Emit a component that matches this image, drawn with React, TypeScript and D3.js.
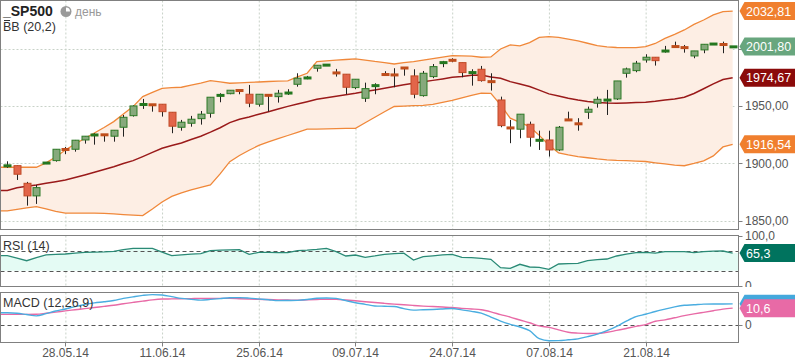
import React, { useEffect, useRef } from 'react';
import * as d3 from 'd3';

// candles (index 0 = first visible day)
const openP = [1897.0, 1897.9, 1882.5, 1871.5, 1899.5, 1902.3, 1912.4, 1912.2, 1920.3, 1924.3,
  1925.2, 1923.6, 1931.4, 1941.5, 1950.9, 1951.4, 1951.5, 1944.5, 1931.4, 1934.9,
  1938.9, 1943.6, 1958.8, 1960.7, 1963.8, 1960.2, 1951.5, 1960.0, 1958.1, 1960.9,
  1968.9, 1974.0, 1982.9, 1985.2, 1979.2, 1977.7, 1966.0, 1956.7, 1967.3, 1977.8,
  1977.9, 1983.5, 1976.2, 1959.0, 1975.6, 1987.4, 1990.2, 1987.8, 1978.7, 1982.0,
  1971.6, 1955.2, 1931.2, 1929.7, 1934.0, 1919.6, 1920.3, 1911.6, 1938.2, 1934.8,
  1944.5, 1952.4, 1954.7, 1956.1, 1978.5, 1980.8, 1990.1, 1992.5, 1997.5, 2002.2,
  2001.3, 1993.6, 1998.9, 2003.6, 2004.0, 2001.3];
const highP = [1901.7, 1898.2, 1883.7, 1881.1, 1901.0, 1912.2, 1914.2, 1920.3, 1923.6, 1926.2,
  1925.2, 1928.8, 1942.1, 1950.5, 1956.1, 1951.4, 1951.5, 1944.5, 1937.8, 1941.3,
  1945.6, 1957.6, 1961.1, 1963.7, 1963.8, 1968.3, 1960.2, 1960.0, 1964.0, 1964.6,
  1978.5, 1976.2, 1985.5, 1986.0, 1982.3, 1977.7, 1973.3, 1970.3, 1969.8, 1980.3,
  1982.9, 1983.5, 1982.0, 1980.5, 1986.6, 1989.3, 1991.6, 1987.8, 1982.0, 1984.9,
  1978.5, 1958.1, 1937.8, 1942.8, 1936.3, 1928.4, 1928.4, 1932.5, 1945.0, 1939.3,
  1949.4, 1958.1, 1964.0, 1971.8, 1983.4, 1989.3, 1995.1, 1992.5, 2002.4, 2006.1,
  2003.2, 1998.0, 2003.8, 2004.4, 2006.1, 2001.8];
const lowP = [1895.9, 1885.4, 1863.0, 1864.5, 1899.3, 1901.4, 1907.9, 1910.1, 1917.1, 1916.2,
  1918.8, 1918.8, 1923.2, 1940.7, 1947.4, 1945.0, 1940.7, 1926.2, 1928.4, 1931.9,
  1933.7, 1939.8, 1953.2, 1960.2, 1960.2, 1948.9, 1949.4, 1945.0, 1952.9, 1959.6,
  1966.8, 1973.3, 1979.9, 1985.2, 1975.6, 1960.2, 1964.6, 1953.5, 1960.2, 1976.2,
  1966.3, 1976.4, 1956.7, 1958.1, 1974.2, 1983.8, 1988.1, 1975.0, 1967.7, 1971.2,
  1963.4, 1931.4, 1917.5, 1921.8, 1914.5, 1911.6, 1905.8, 1910.7, 1936.9, 1928.4,
  1938.7, 1948.5, 1942.1, 1955.2, 1974.7, 1979.4, 1987.8, 1985.2, 1996.5, 2001.2,
  1996.5, 1991.6, 1996.0, 2003.6, 1996.0, 2001.3];
const closeP = [1898.5, 1890.4, 1871.5, 1878.7, 1900.8, 1912.2, 1911.6, 1920.1, 1923.6, 1925.0,
  1924.4, 1928.8, 1940.1, 1950.0, 1951.6, 1950.6, 1945.0, 1932.3, 1935.8, 1938.4,
  1942.8, 1957.6, 1959.6, 1963.7, 1963.1, 1952.4, 1960.2, 1958.5, 1961.1, 1961.6,
  1974.2, 1974.8, 1985.5, 1986.0, 1978.4, 1966.3, 1973.3, 1965.1, 1968.1, 1977.0,
  1976.2, 1982.7, 1960.2, 1978.5, 1984.3, 1988.2, 1989.4, 1979.1, 1979.5, 1972.1,
  1970.8, 1932.8, 1930.4, 1942.8, 1922.7, 1920.4, 1911.6, 1931.4, 1937.4, 1934.0,
  1947.1, 1955.8, 1955.5, 1971.8, 1982.3, 1987.3, 1992.5, 1989.5, 1998.3, 2001.4,
  2000.5, 1998.0, 2003.8, 2004.4, 2003.2, 2001.8];

// Bollinger bands (20,2)
const bbUpper = [1896.5, 1896.5, 1896.5, 1896.5, 1900.3, 1905.5, 1911.6, 1916.8, 1921.6, 1926.4,
  1931.2, 1936.3, 1943.0, 1949.4, 1958.1, 1961.8, 1965.4, 1965.9, 1966.3, 1968.1,
  1969.8, 1972.1, 1970.9, 1969.8, 1970.2, 1970.5, 1970.9, 1971.3, 1971.6, 1971.8,
  1975.3, 1978.5, 1988.7, 1989.3, 1989.9, 1990.5, 1991.0, 1990.0, 1988.8, 1987.8,
  1986.6, 1987.7, 1988.7, 1990.0, 1991.3, 1992.6, 1993.9, 1993.6, 1993.4, 1992.5,
  1992.8, 1999.7, 2003.2, 2002.4, 2005.2, 2009.8, 2010.5, 2009.8, 2008.2, 2006.7,
  2004.7, 2002.6, 2001.5, 2001.0, 2000.9, 2000.9, 2001.7, 2004.5, 2008.9, 2012.4,
  2016.3, 2021.1, 2025.0, 2029.4, 2032.3, 2032.81];
const bbMiddle = [1876.3, 1878.6, 1879.9, 1881.1, 1882.5, 1883.9, 1885.3, 1887.5, 1889.8, 1892.1,
  1894.6, 1897.0, 1899.7, 1902.3, 1905.8, 1909.5, 1913.1, 1915.4, 1917.7, 1920.7,
  1923.5, 1927.1, 1931.0, 1935.4, 1938.4, 1940.4, 1942.8, 1945.0, 1947.4, 1949.6,
  1951.6, 1953.7, 1955.8, 1957.2, 1958.5, 1959.8, 1961.1, 1962.6, 1964.0, 1965.5,
  1967.0, 1968.4, 1969.8, 1971.1, 1972.3, 1973.6, 1975.0, 1975.7, 1976.8, 1976.9,
  1975.3, 1974.2, 1971.2, 1969.1, 1967.0, 1963.8, 1960.5, 1958.6, 1956.7, 1955.2,
  1953.9, 1952.9, 1952.5, 1952.4, 1952.6, 1952.9, 1953.2, 1954.0, 1955.1, 1956.0,
  1957.6, 1960.9, 1965.0, 1969.2, 1973.1, 1974.67];
const bbLower = [1858.4, 1859.7, 1861.0, 1862.1, 1860.1, 1858.0, 1856.4, 1856.4, 1856.4, 1856.4,
  1856.2, 1855.8, 1855.2, 1854.7, 1854.3, 1860.1, 1866.2, 1871.0, 1874.1, 1876.7,
  1878.9, 1881.1, 1890.7, 1901.4, 1906.8, 1911.3, 1915.5, 1918.6, 1921.4, 1924.2,
  1927.0, 1929.7, 1929.8, 1930.0, 1930.2, 1930.4, 1930.5, 1935.3, 1940.1, 1944.9,
  1949.5, 1949.8, 1950.2, 1950.5, 1951.3, 1953.1, 1954.8, 1957.0, 1959.2, 1961.1,
  1960.9, 1950.9, 1939.3, 1935.6, 1931.9, 1924.3, 1916.0, 1909.0, 1907.2, 1905.8,
  1904.8, 1903.8, 1903.0, 1902.5, 1902.2, 1901.8, 1901.5, 1900.4, 1899.4, 1898.3,
  1897.8, 1899.8, 1902.0, 1906.4, 1914.2, 1916.54];

// RSI (14)
const rsi14 = [60, 55, 50, 56, 61.5, 62.5, 63.4, 65, 66.8, 67.2,
  67.6, 68.5, 72, 74.5, 74.8, 74.8, 67, 60, 61.5, 63,
  64.2, 70, 71, 71.6, 72, 62.8, 66.8, 66.5, 66.3, 66,
  70, 71, 72.5, 74.8, 68, 59.4, 61.4, 56.8, 59.5, 62.8,
  64, 65, 51.4, 58, 59.8, 61.5, 62.8, 56.8, 56, 54.5,
  52.8, 36, 34.8, 42.8, 37.4, 36.8, 32.8, 43.4, 44, 44.8,
  50, 52, 53.4, 59.4, 63, 66, 66.8, 65, 68, 68,
  68, 66, 68, 69, 69.4, 65.3];

// MACD (12,26,9)
const macdLine = [7.7, 7.4, 6.6, 5.8, 7.2, 8.8, 10.1, 11.6, 12.9, 13.9,
  14.6, 15.4, 16.7, 17.7, 18.6, 19.1, 18.8, 17.8, 16.7, 16.1,
  15.6, 16.1, 16.6, 17.1, 17.2, 16.9, 16.4, 15.9, 15.3, 15.4,
  15.5, 16, 16.8, 17, 16.7, 15.3, 14, 13, 12, 11.8,
  11.6, 10.3, 9.4, 9.6, 9.8, 10.1, 10.4, 9.5, 8.6, 7.5,
  5, 2.5, 0.5, -1.2, -3.5, -8.5, -9.8, -9.7, -9.2, -8.6,
  -7.2, -5.6, -3.4, -0.8, 2.5, 5.3, 6.8, 8.5, 10, 11.4,
  12.4, 12.7, 13.1, 13.2, 13.2, 13.3];
const signalLine = [6.7, 6.7, 6.7, 6.8, 7.4, 8.1, 8.9, 9.6, 10.3, 11,
  11.7, 12.4, 13.4, 14.2, 15, 15.8, 16.3, 16.4, 16.5, 16.6,
  16.7, 16.7, 16.7, 16.7, 16.5, 16.3, 16.1, 16, 15.8, 15.7,
  15.6, 15.8, 16, 16.2, 16.1, 15.7, 15.2, 14.6, 14.1, 13.6,
  13.1, 12.7, 12.3, 11.9, 11.6, 11.3, 11, 10.5, 10.1, 9.6,
  8.3, 6.6, 5, 3.2, 1.5, -0.5, -1.4, -3, -4.5, -5,
  -5.2, -5.2, -4.5, -3.3, -2.1, -0.8, 0.3, 2.4, 3.3, 4.6,
  5.9, 7, 8, 9, 10, 10.6];

const tickIndex = [6, 16, 26, 36, 46, 56, 66];
const tickLabels = ['28.05.14', '11.06.14', '25.06.14', '09.07.14', '24.07.14', '07.08.14', '21.08.14'];
const priceTicks = [1850, 1900, 1950, 2000];
const priceLabelTicks = [1850, 1900, 1950]; // 2000,00 sits under the close tag

const W = 798;
const H = 363;
const FONT = '"Liberation Sans", Arial, sans-serif';

const fmt = (v: number, d: number) => v.toFixed(d).replace('.', ',');

export default function App() {
  const svgRef = useRef<SVGSVGElement>(null);

  useEffect(() => {
    document.body.style.margin = '0';
    const svg = d3.select(svgRef.current);
    svg.selectAll('*').remove();

    const left = 0.5;
    const right = 738.5;
    const main = { top: 0.5, bottom: 229.5 };
    const rsiP = { top: 235.5, bottom: 286.5 };
    const macdP = { top: 292.5, bottom: 342.5 };

    const n = closeP.length;
    const xb = d3.scaleBand<number>().domain(d3.range(n)).range([2.5, 737.5]);
    const cx = (i: number) => (xb(i) as number) + xb.bandwidth() / 2;

    const y = d3.scaleLinear().domain([1842, 2042]).range([229.7, 0.5]);
    const yR = d3.scaleLinear().domain([0, 100]).range([285.7, 235.7]);
    const yM = d3.scaleLinear().domain([-11, 20.4]).range([342.7, 292.5]);

    const defs = svg.append('defs');
    const clip = (id: string, top: number, bottom: number) =>
      defs.append('clipPath').attr('id', id).append('rect')
        .attr('x', left).attr('y', top).attr('width', right - left).attr('height', bottom - top);
    clip('cMain', main.top, main.bottom);
    clip('cRsi', rsiP.top, rsiP.bottom);
    clip('cMacd', macdP.top, macdP.bottom);
    defs.append('clipPath').attr('id', 'cRsiAxis').append('rect')
      .attr('x', right).attr('y', 229.7).attr('width', 60).attr('height', 57.3);

    svg.append('rect').attr('width', W).attr('height', H).attr('fill', '#fff');

    // series with a leading point at the left border
    const withEdge = (arr: number[]) =>
      [[left, arr[0]] as [number, number]].concat(arr.map((v, i) => [cx(i), v] as [number, number]));

    // grid
    const grid = svg.append('g');
    [main, rsiP, macdP].forEach((p) => {
      grid.selectAll(null).data(tickIndex).enter().append('line')
        .attr('x1', (d) => cx(d) + 0.5).attr('x2', (d) => cx(d) + 0.5)
        .attr('y1', p.top).attr('y2', p.bottom)
        .attr('stroke', '#c8d2c8').attr('stroke-dasharray', '2,2');
    });
    grid.selectAll(null).data(priceTicks).enter().append('line')
      .attr('x1', left).attr('x2', right - 2)
      .attr('y1', (d) => Math.round(y(d)) + 0.5).attr('y2', (d) => Math.round(y(d)) + 0.5)
      .attr('stroke', '#c8d2c8').attr('stroke-dasharray', '2,2');

    // main panel
    const gm = svg.append('g').attr('clip-path', 'url(#cMain)');
    const bandPts = bbUpper.map((u, i) => ({ x: cx(i), u, l: bbLower[i] }));
    bandPts.unshift({ x: left, u: bbUpper[0], l: bbLower[0] });
    gm.append('path').datum(bandPts)
      .attr('fill', '#fdeee4')
      .attr('d', d3.area<{ x: number; u: number; l: number }>().x((d) => d.x).y0((d) => y(d.l)).y1((d) => y(d.u)));
    const line = d3.line<[number, number]>().x((d) => d[0]).y((d) => y(d[1]));
    gm.append('path').datum(withEdge(bbUpper)).attr('fill', 'none').attr('stroke', '#f0883a').attr('stroke-width', 1.3).attr('d', line);
    gm.append('path').datum(withEdge(bbLower)).attr('fill', 'none').attr('stroke', '#f0883a').attr('stroke-width', 1.3).attr('d', line);
    gm.append('path').datum(withEdge(bbMiddle)).attr('fill', 'none').attr('stroke', '#9a1a1a').attr('stroke-width', 1.5).attr('d', line);

    const candles = gm.selectAll(null).data(d3.range(n)).enter().append('g');
    candles.append('line')
      .attr('x1', (i) => Math.round(cx(i)) + 0.5).attr('x2', (i) => Math.round(cx(i)) + 0.5)
      .attr('y1', (i) => y(highP[i])).attr('y2', (i) => y(lowP[i]))
      .attr('stroke', '#222').attr('stroke-width', 1);
    candles.each(function (i) {
      const g = d3.select(this);
      const up = closeP[i] >= openP[i];
      const top = y(Math.max(openP[i], closeP[i]));
      const bot = y(Math.min(openP[i], closeP[i]));
      const xl = Math.round(cx(i)) - 3;
      if (bot - top < 2) {
        g.append('rect').attr('x', xl - 0.5).attr('y', (top + bot) / 2 - 1.5).attr('width', 8).attr('height', 3)
          .attr('fill', up ? '#24771f' : '#bf4e1c');
      } else {
        g.append('rect').attr('x', xl).attr('y', top).attr('width', 7).attr('height', bot - top)
          .attr('fill', up ? '#87a97c' : '#e2654a')
          .attr('stroke', up ? '#2d7a26' : '#c04a26').attr('stroke-width', 1);
      }
    });

    // RSI panel
    const gr = svg.append('g').attr('clip-path', 'url(#cRsi)');
    const rsiPts = withEdge(rsi14).concat([[right, rsi14[n - 1]]]);
    gr.append('path').datum(rsiPts)
      .attr('fill', '#e4fbf4')
      .attr('d', d3.area<[number, number]>().x((d) => d[0]).y0(yR(30)).y1((d) => yR(d[1])));
    [70, 30].forEach((v) => {
      gr.append('line').attr('x1', left).attr('x2', right)
        .attr('y1', Math.round(yR(v)) + 0.5).attr('y2', Math.round(yR(v)) + 0.5)
        .attr('stroke', '#555').attr('stroke-dasharray', '4,3');
    });
    gr.append('path').datum(withEdge(rsi14)).attr('fill', 'none').attr('stroke', '#2a8a76').attr('stroke-width', 1.3)
      .attr('d', d3.line<[number, number]>().x((d) => d[0]).y((d) => yR(d[1])));

    // MACD panel
    const gc = svg.append('g').attr('clip-path', 'url(#cMacd)');
    gc.append('line').attr('x1', left).attr('x2', right)
      .attr('y1', Math.round(yM(0)) + 0.5).attr('y2', Math.round(yM(0)) + 0.5)
      .attr('stroke', '#555').attr('stroke-dasharray', '4,3');
    const mline = d3.line<[number, number]>().x((d) => d[0]).y((d) => yM(d[1])).curve(d3.curveMonotoneX);
    gc.append('path').datum(withEdge(signalLine)).attr('fill', 'none').attr('stroke', '#e86aa6').attr('stroke-width', 1.4).attr('d', mline);
    gc.append('path').datum(withEdge(macdLine)).attr('fill', 'none').attr('stroke', '#4aade0').attr('stroke-width', 1.4).attr('d', mline);

    // panel frames
    [main, rsiP, macdP].forEach((p) => {
      svg.append('rect').attr('x', left).attr('y', p.top).attr('width', right - left).attr('height', p.bottom - p.top)
        .attr('fill', 'none').attr('stroke', '#808080');
    });

    // right axes
    const axTick = (g: any, yy: number) =>
      g.append('line').attr('x1', right).attr('x2', right + 4)
        .attr('y1', Math.round(yy) + 0.5).attr('y2', Math.round(yy) + 0.5).attr('stroke', '#808080');
    const axText = (g: any, yy: number, t: string) => {
      axTick(g, yy);
      g.append('text').attr('x', 745).attr('y', yy).attr('dy', '0.36em')
        .attr('font-family', FONT).attr('font-size', 12).attr('fill', '#555').text(t);
    };
    const ax = svg.append('g');
    axTick(ax, y(2000));
    priceLabelTicks.forEach((v) => axText(ax, y(v), fmt(v, 2)));
    const axR = svg.append('g').attr('clip-path', 'url(#cRsiAxis)');
    axText(axR, yR(100), '100,0');
    axText(axR, yR(0), '0');
    axText(ax, yM(0), '0');

    // x axis
    tickIndex.forEach((t, k) => {
      const xx = Math.round(cx(t)) + 0.5;
      ax.append('line').attr('x1', xx).attr('x2', xx).attr('y1', macdP.bottom).attr('y2', macdP.bottom + 4).attr('stroke', '#808080');
      ax.append('text').attr('x', xx).attr('y', 352.5).attr('dy', '0.36em').attr('text-anchor', 'middle')
        .attr('font-family', FONT).attr('font-size', 12).attr('fill', '#555').text(tickLabels[k]);
    });

    // value tags
    const tag = (yy: number, t: string | null, color: string) => {
      const g = svg.append('g');
      g.append('path')
        .attr('d', `M${right + 1},${yy} L${right + 6},${yy - 9} L795,${yy - 9} L795,${yy + 9} L${right + 6},${yy + 9} Z`)
        .attr('fill', color);
      if (t) {
        g.append('text').attr('x', 746).attr('y', yy).attr('dy', '0.36em')
          .attr('font-family', FONT).attr('font-size', 12.5).attr('fill', '#fff').text(t);
      }
    };
    const last = n - 1;
    tag(y(bbUpper[last]), fmt(bbUpper[last], 2), '#f07f2e');
    tag(y(closeP[last]), fmt(closeP[last], 2), '#68a67e');
    tag(y(bbMiddle[last]), fmt(bbMiddle[last], 2), '#8b0a0a');
    tag(y(bbLower[last]), fmt(bbLower[last], 2), '#f07f2e');
    tag(yR(rsi14[last]), fmt(rsi14[last], 1), '#00735e');
    tag(yM(macdLine[last]), null, '#44a8dc'); // hidden under the signal tag
    tag(yM(signalLine[last]), fmt(signalLine[last], 1), '#e86aa6');

    // titles
    const tt = svg.append('g').attr('font-family', FONT);
    tt.append('text').attr('x', 3).attr('y', 16).attr('font-size', 14).attr('font-weight', 'bold').attr('fill', '#222').text('_SP500');
    tt.append('circle').attr('cx', 66).attr('cy', 11.5).attr('r', 5.5).attr('fill', '#9a9a9a');
    tt.append('path').attr('d', 'M66,11.5 L66,7.5 A4,4 0 0 1 70,11.5 Z').attr('fill', '#fff');
    tt.append('text').attr('x', 75).attr('y', 16).attr('font-size', 12).attr('fill', '#999').text('день');
    tt.append('line').attr('x1', 4).attr('x2', 10).attr('y1', 20.5).attr('y2', 20.5).attr('stroke', '#333');
    tt.append('text').attr('x', 3).attr('y', 31).attr('font-size', 12.5).attr('fill', '#333').text('BB (20,2)');
    tt.append('text').attr('x', 3).attr('y', 250).attr('font-size', 12.5).attr('fill', '#333').text('RSI (14)');
    tt.append('text').attr('x', 3).attr('y', 306.5).attr('font-size', 12.5).attr('fill', '#333').text('MACD (12,26,9)');
  }, []);

  return <svg ref={svgRef} width={W} height={H} style={{ display: 'block' }} />;
}
